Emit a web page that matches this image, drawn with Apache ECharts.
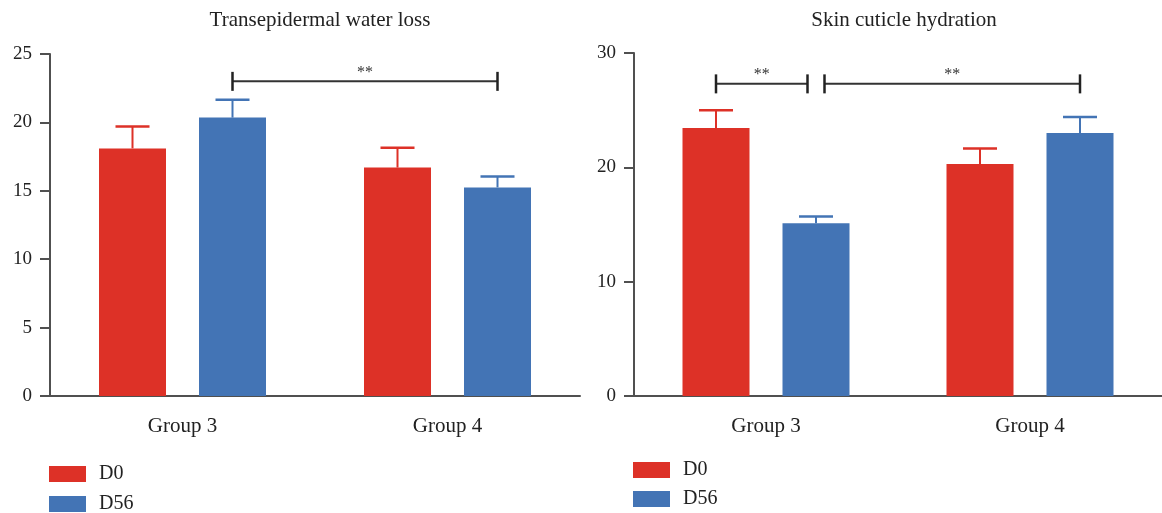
<!DOCTYPE html>
<html>
<head>
<meta charset="utf-8">
<script src="https://cdn.jsdelivr.net/npm/echarts@6/dist/echarts.min.js"></script>
<style>
  html, body { margin: 0; padding: 0; background: #ffffff; }
  #chart { width: 1162px; height: 513px; }
</style>
</head>
<body>
<div id="chart"></div>
<script>
// ---- data ----
const groups = ['Group 3', 'Group 4'];
const seriesNames = ['D0', 'D56'];

// Transepidermal water loss (mean, SD)
const tewlD0 = [18.1, 16.7];
const tewlD0Sd = [1.6, 1.45];
const tewlD56 = [20.35, 15.25];
const tewlD56Sd = [1.3, 0.8];
const tewlTicks = { min: 0, max: 25, interval: 5 };

// Skin cuticle hydration (mean, SD)
const hydD0 = [23.45, 20.3];
const hydD0Sd = [1.55, 1.35];
const hydD56 = [15.1, 23.0];
const hydD56Sd = [0.6, 1.4];
const hydTicks = { min: 0, max: 30, interval: 10 };

// significance brackets: [fromGroup, fromSlot, toGroup, toSlot, height, label, trimStart, trimEnd]
const tewlSig = [[0, 1, 1, 1, 23.0, '**', 0, 0]];
const hydSig = [
  [0, 0, 0, 1, 27.3, '**', 0, 1],
  [0, 1, 1, 1, 27.3, '**', 1, 0]
];

// ---- style ----
const RED = '#dd3127';
const BLUE = '#4374b5';
const AXIS = '#505050';
const TEXT = '#222222';
const FONT = 'Liberation Serif';
const BAR_W = 67;
const BAR_GAP = 33;
const SLOT_OFFSET = (BAR_W + BAR_GAP) / 2;
const CAP_W = 34;
const BRACKET_TRIM = 8.5;
const BRACKET_TICK = 9.5;

const chart = echarts.init(document.getElementById('chart'), null, { renderer: 'canvas' });

function xAxisFor(gridIndex) {
  return {
    gridIndex, type: 'category', data: groups,
    axisLine: { lineStyle: { color: AXIS, width: 2 } },
    axisTick: { alignWithLabel: true, length: 9, lineStyle: { color: AXIS, width: 2 } },
    axisLabel: { fontFamily: FONT, fontSize: 21, color: TEXT, margin: 20 }
  };
}
function yAxisFor(gridIndex, ticks) {
  return {
    gridIndex, type: 'value', min: ticks.min, max: ticks.max, interval: ticks.interval,
    axisLine: { show: true, lineStyle: { color: AXIS, width: 2 } },
    axisTick: { show: true, length: 10, lineStyle: { color: AXIS, width: 2 } },
    splitLine: { show: false },
    axisLabel: { fontFamily: FONT, fontSize: 19, color: TEXT, margin: 18 }
  };
}
function barSeries(gridIndex, name, values, color) {
  return {
    type: 'bar', name, xAxisIndex: gridIndex, yAxisIndex: gridIndex,
    data: values, barWidth: BAR_W, barGap: (BAR_GAP / BAR_W * 100) + '%',
    itemStyle: { color }, z: 2
  };
}
function errorSeries(gridIndex, means, sds, slot, color) {
  return {
    type: 'custom', xAxisIndex: gridIndex, yAxisIndex: gridIndex, z: 3,
    encode: { x: 0, y: [1, 2] },
    data: means.map((m, i) => [i, m, m + sds[i]]),
    renderItem(params, api) {
      const base = api.coord([api.value(0), api.value(1)]);
      const top = api.coord([api.value(0), api.value(2)]);
      const x = base[0] + (slot === 0 ? -SLOT_OFFSET : SLOT_OFFSET);
      return {
        type: 'group',
        children: [
          { type: 'line', shape: { x1: x, y1: base[1], x2: x, y2: top[1] },
            style: { stroke: color, lineWidth: 2 } },
          { type: 'line', shape: { x1: x - CAP_W / 2, y1: top[1], x2: x + CAP_W / 2, y2: top[1] },
            style: { stroke: color, lineWidth: 2.5 } }
        ]
      };
    }
  };
}
function bracketSeries(gridIndex, brackets) {
  return {
    type: 'custom', xAxisIndex: gridIndex, yAxisIndex: gridIndex, z: 4,
    encode: { x: 0, y: 4 },
    data: brackets,
    renderItem(params, api) {
      const b = brackets[params.dataIndex];
      const p1 = api.coord([b[0], b[4]]);
      const p2 = api.coord([b[2], b[4]]);
      const x1 = p1[0] + (b[1] === 0 ? -SLOT_OFFSET : SLOT_OFFSET) + (b[6] ? BRACKET_TRIM : 0);
      const x2 = p2[0] + (b[3] === 0 ? -SLOT_OFFSET : SLOT_OFFSET) - (b[7] ? BRACKET_TRIM : 0);
      const y = p1[1];
      return {
        type: 'group',
        children: [
          { type: 'line', shape: { x1, y1: y, x2, y2: y }, style: { stroke: '#333', lineWidth: 2 } },
          { type: 'line', shape: { x1, y1: y - BRACKET_TICK, x2: x1, y2: y + BRACKET_TICK },
            style: { stroke: '#222', lineWidth: 2.5 } },
          { type: 'line', shape: { x1: x2, y1: y - BRACKET_TICK, x2, y2: y + BRACKET_TICK },
            style: { stroke: '#222', lineWidth: 2.5 } },
          { type: 'text', x: (x1 + x2) / 2, y: y - 9,
            style: { text: b[5], fill: '#333', font: '16px "' + FONT + '"',
                     align: 'center', verticalAlign: 'middle',
                     textAlign: 'center', textVerticalAlign: 'middle' } }
        ]
      };
    }
  };
}

const titleStyle = { fontFamily: FONT, fontSize: 21, fontWeight: 'normal', color: TEXT };

// one legend entry per row, stacked under each panel
function legendEntry(name, left, top) {
  return {
    data: [name], left, top, padding: 0, icon: 'rect',
    itemWidth: 37, itemHeight: 16, selectedMode: false,
    textStyle: { fontFamily: FONT, fontSize: 20, color: TEXT, padding: [0, 0, 0, 8] }
  };
}

chart.setOption({
  animation: false,
  textStyle: { fontFamily: FONT },
  title: [
    { text: 'Transepidermal water loss', left: 315, top: 5, textAlign: 'center', textStyle: titleStyle },
    { text: 'Skin cuticle hydration', left: 899, top: 5, textAlign: 'center', textStyle: titleStyle }
  ],
  legend: [
    legendEntry(seriesNames[0], 49, 464),
    legendEntry(seriesNames[1], 49, 494),
    legendEntry(seriesNames[0], 633, 460),
    legendEntry(seriesNames[1], 633, 489)
  ],
  grid: [
    { left: 50, top: 54, width: 530, height: 342 },
    { left: 634, top: 53, width: 530, height: 343 }
  ],
  xAxis: [xAxisFor(0), xAxisFor(1)],
  yAxis: [yAxisFor(0, tewlTicks), yAxisFor(1, hydTicks)],
  series: [
    barSeries(0, seriesNames[0], tewlD0, RED),
    barSeries(0, seriesNames[1], tewlD56, BLUE),
    barSeries(1, seriesNames[0], hydD0, RED),
    barSeries(1, seriesNames[1], hydD56, BLUE),
    errorSeries(0, tewlD0, tewlD0Sd, 0, RED),
    errorSeries(0, tewlD56, tewlD56Sd, 1, BLUE),
    errorSeries(1, hydD0, hydD0Sd, 0, RED),
    errorSeries(1, hydD56, hydD56Sd, 1, BLUE),
    bracketSeries(0, tewlSig),
    bracketSeries(1, hydSig)
  ]
});
</script>
</body>
</html>
